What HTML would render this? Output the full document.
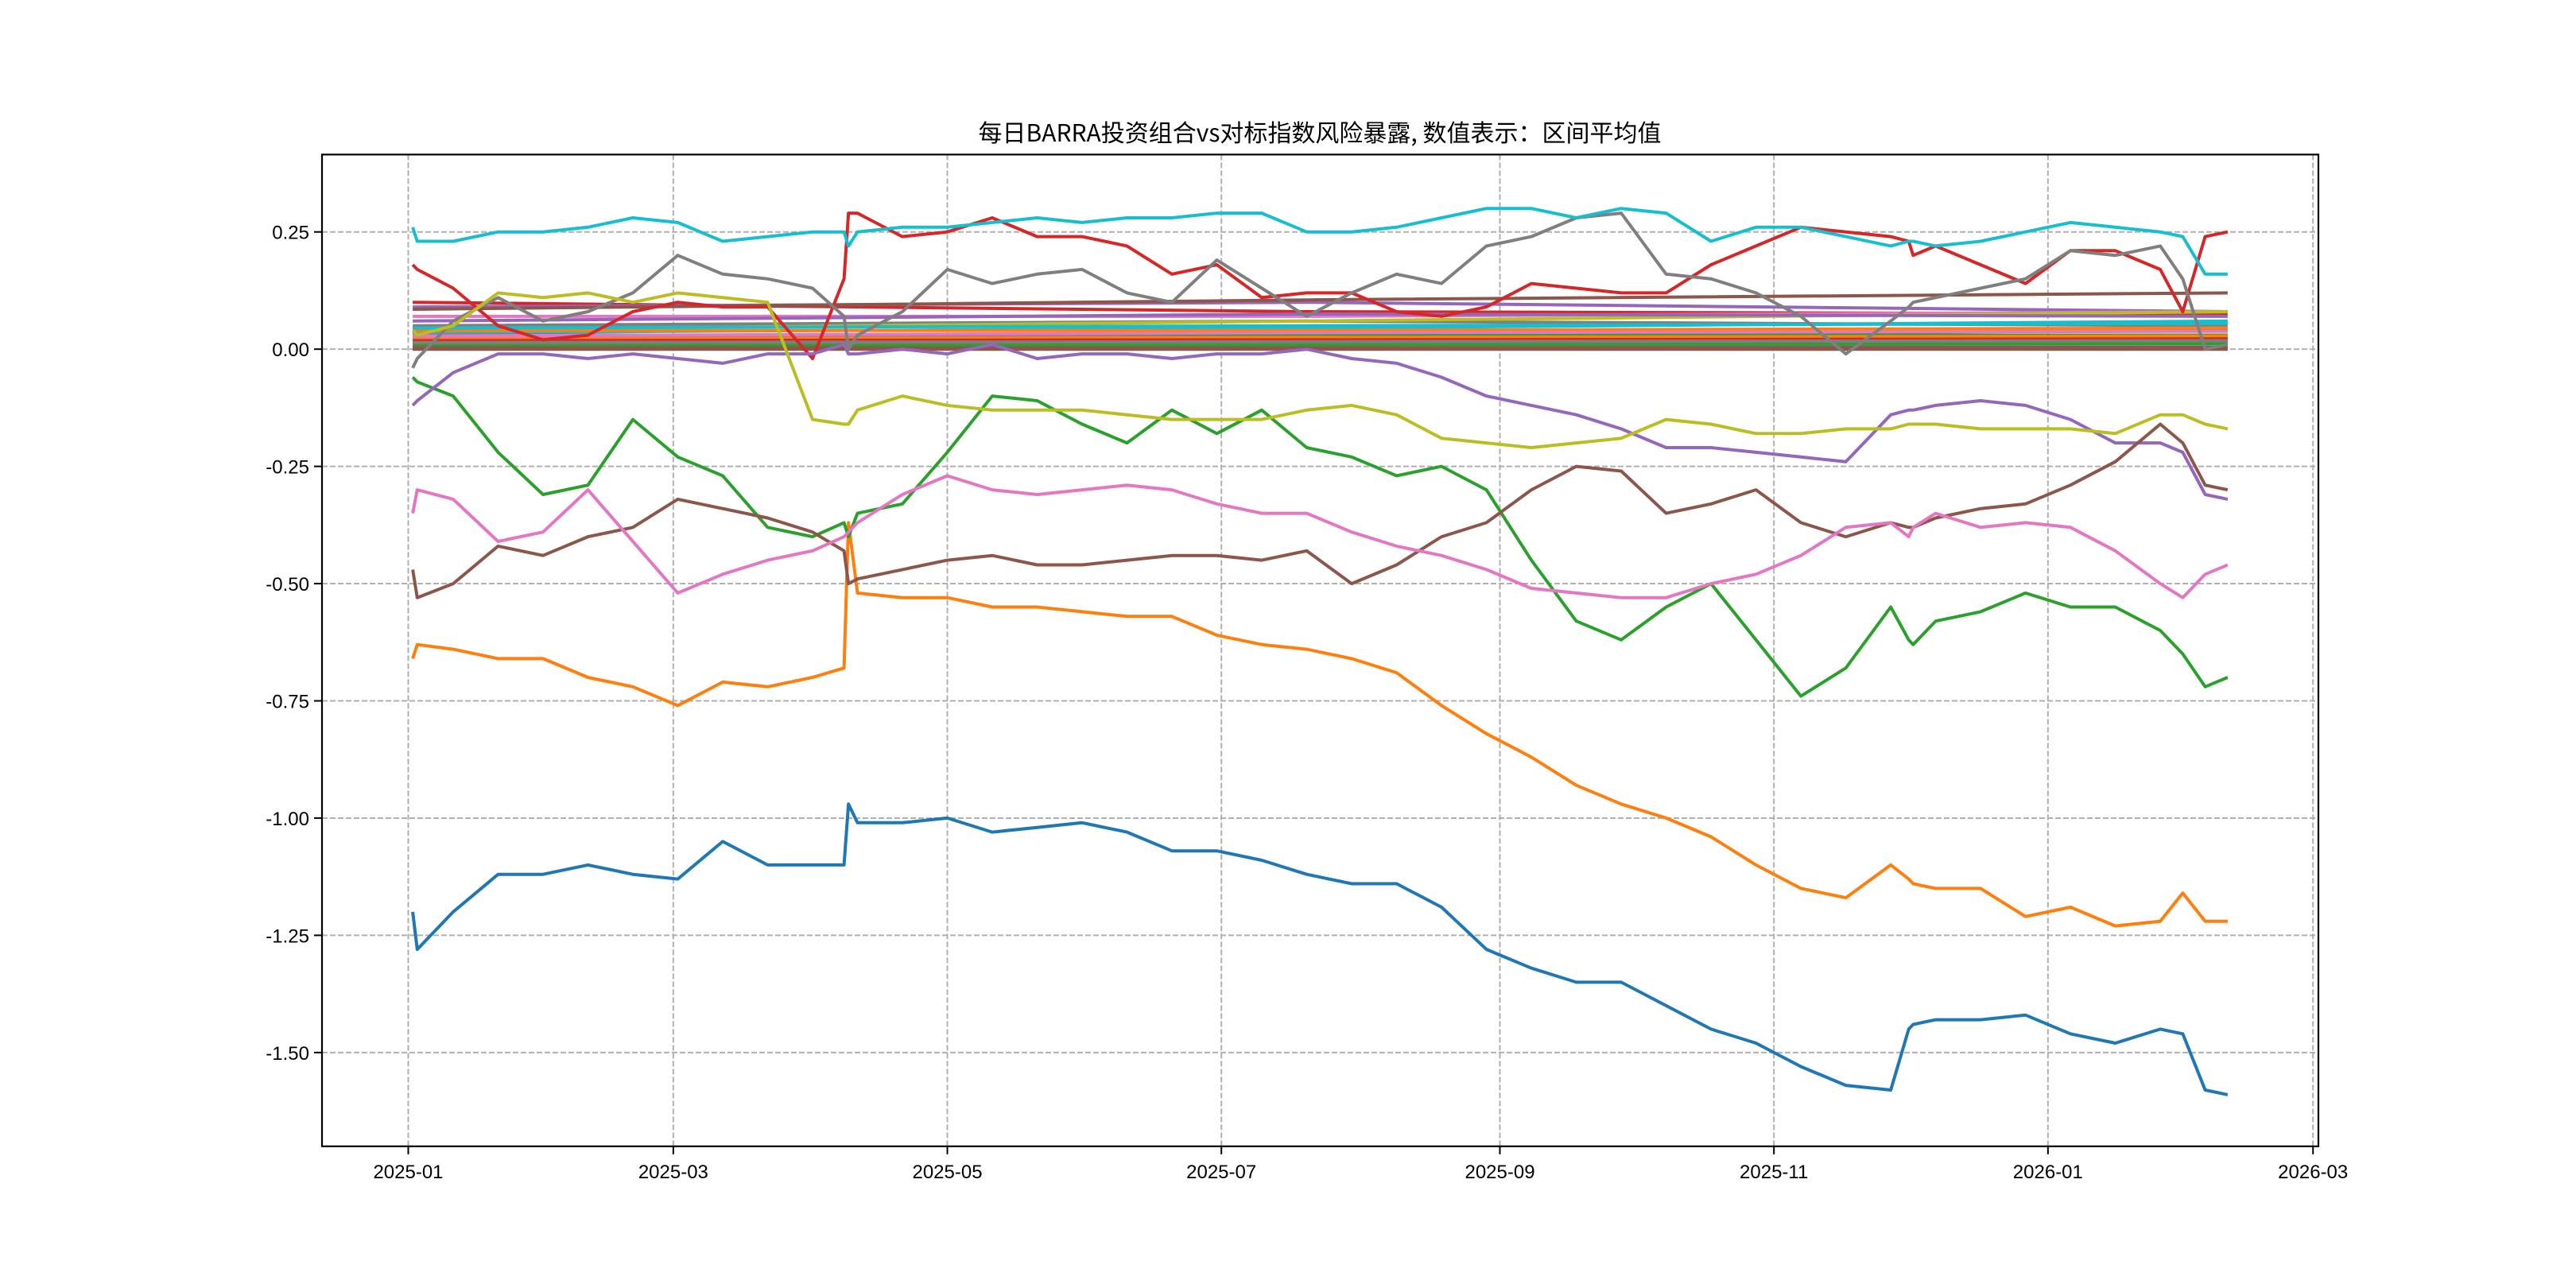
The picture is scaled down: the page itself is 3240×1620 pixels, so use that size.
<!DOCTYPE html>
<html><head><meta charset="utf-8">
<style>
html,body{margin:0;padding:0;background:#fff;}
svg{display:block;}
text{font-family:"Liberation Sans","Noto Sans CJK SC",sans-serif;fill:#000;}
</style></head>
<body>
<svg id="chart" width="3240" height="1620" viewBox="0 0 3240 1620" xmlns="http://www.w3.org/2000/svg">
<rect width="3240" height="1620" fill="#fff"/>
<g id="grid"></g>
<g id="series"></g>
<rect x="405" y="194.4" width="2511" height="1247.4" fill="none" stroke="#000" stroke-width="2.2"/>
<g id="axes"></g>
<text x="1660" y="178" text-anchor="middle" font-size="30" style="font-family:'Noto Sans CJK SC','Liberation Sans',sans-serif">每日BARRA投资组合vs对标指数风险暴露, 数值表示：区间平均值</text>
</svg>
<script>
const days = [1,2,10,20,30,40,50,60,70,80,90,97,98,100,110,120,130,140,150,160,170,180,190,200,210,220,230,240,250,260,270,280,290,300,310,320,330,334,335,340,350,360,370,380,390,395,400,405];
const blueVals = [-1.20,-1.28,-1.20,-1.12,-1.12,-1.10,-1.12,-1.13,-1.05,-1.10,-1.10,-1.10,-0.97,-1.01,-1.01,-1.00,-1.03,-1.02,-1.01,-1.03,-1.07,-1.07,-1.09,-1.12,-1.14,-1.14,-1.19,-1.28,-1.32,-1.35,-1.35,-1.40,-1.45,-1.48,-1.53,-1.57,-1.58,-1.45,-1.44,-1.43,-1.43,-1.42,-1.46,-1.48,-1.45,-1.46,-1.58,-1.59];
const orangeVals = [-0.66,-0.63,-0.64,-0.66,-0.66,-0.70,-0.72,-0.76,-0.71,-0.72,-0.70,-0.68,-0.37,-0.52,-0.53,-0.53,-0.55,-0.55,-0.56,-0.57,-0.57,-0.61,-0.63,-0.64,-0.66,-0.69,-0.76,-0.82,-0.87,-0.93,-0.97,-1.00,-1.04,-1.10,-1.15,-1.17,-1.10,-1.13,-1.14,-1.15,-1.15,-1.21,-1.19,-1.23,-1.22,-1.16,-1.22,-1.22];
const greenVals = [-0.06,-0.07,-0.10,-0.22,-0.31,-0.29,-0.15,-0.23,-0.27,-0.38,-0.40,-0.37,-0.40,-0.35,-0.33,-0.22,-0.10,-0.11,-0.16,-0.20,-0.13,-0.18,-0.13,-0.21,-0.23,-0.27,-0.25,-0.30,-0.45,-0.58,-0.62,-0.55,-0.50,-0.62,-0.74,-0.68,-0.55,-0.62,-0.63,-0.58,-0.56,-0.52,-0.55,-0.55,-0.60,-0.65,-0.72,-0.70];
const redVals = [0.18,0.17,0.13,0.05,0.02,0.03,0.08,0.10,0.09,0.09,-0.02,0.15,0.29,0.29,0.24,0.25,0.28,0.24,0.24,0.22,0.16,0.18,0.11,0.12,0.12,0.08,0.07,0.09,0.14,0.13,0.12,0.12,0.18,0.22,0.26,0.25,0.24,0.23,0.20,0.22,0.18,0.14,0.21,0.21,0.17,0.08,0.24,0.25];
const cyanVals = [0.26,0.23,0.23,0.25,0.25,0.26,0.28,0.27,0.23,0.24,0.25,0.25,0.22,0.25,0.26,0.26,0.27,0.28,0.27,0.28,0.28,0.29,0.29,0.25,0.25,0.26,0.28,0.30,0.30,0.28,0.30,0.29,0.23,0.26,0.26,0.24,0.22,0.23,0.23,0.22,0.23,0.25,0.27,0.26,0.25,0.24,0.16,0.16];
const grayVals = [-0.04,-0.02,0.06,0.11,0.06,0.08,0.12,0.20,0.16,0.15,0.13,0.07,0.00,0.03,0.08,0.17,0.14,0.16,0.17,0.12,0.10,0.19,0.13,0.07,0.12,0.16,0.14,0.22,0.24,0.28,0.29,0.16,0.15,0.12,0.07,-0.01,0.06,0.09,0.10,0.11,0.13,0.15,0.21,0.20,0.22,0.15,0.00,0.01];
const oliveVals = [0.04,0.03,0.05,0.12,0.11,0.12,0.10,0.12,0.11,0.10,-0.15,-0.16,-0.16,-0.13,-0.10,-0.12,-0.13,-0.13,-0.13,-0.14,-0.15,-0.15,-0.15,-0.13,-0.12,-0.14,-0.19,-0.20,-0.21,-0.20,-0.19,-0.15,-0.16,-0.18,-0.18,-0.17,-0.17,-0.16,-0.16,-0.16,-0.17,-0.17,-0.17,-0.18,-0.14,-0.14,-0.16,-0.17];
const purpleVals = [-0.12,-0.11,-0.05,-0.01,-0.01,-0.02,-0.01,-0.02,-0.03,-0.01,-0.01,0.01,-0.01,-0.01,0.00,-0.01,0.01,-0.02,-0.01,-0.01,-0.02,-0.01,-0.01,0.00,-0.02,-0.03,-0.06,-0.10,-0.12,-0.14,-0.17,-0.21,-0.21,-0.22,-0.23,-0.24,-0.14,-0.13,-0.13,-0.12,-0.11,-0.12,-0.15,-0.20,-0.20,-0.22,-0.31,-0.32];
const brownVals = [-0.47,-0.53,-0.50,-0.42,-0.44,-0.40,-0.38,-0.32,-0.34,-0.36,-0.39,-0.43,-0.50,-0.49,-0.47,-0.45,-0.44,-0.46,-0.46,-0.45,-0.44,-0.44,-0.45,-0.43,-0.50,-0.46,-0.40,-0.37,-0.30,-0.25,-0.26,-0.35,-0.33,-0.30,-0.37,-0.40,-0.37,-0.38,-0.38,-0.36,-0.34,-0.33,-0.29,-0.24,-0.16,-0.20,-0.29,-0.30];
const pinkVals = [-0.35,-0.30,-0.32,-0.41,-0.39,-0.30,-0.41,-0.52,-0.48,-0.45,-0.43,-0.40,-0.39,-0.37,-0.31,-0.27,-0.30,-0.31,-0.30,-0.29,-0.30,-0.33,-0.35,-0.35,-0.39,-0.42,-0.44,-0.47,-0.51,-0.52,-0.53,-0.53,-0.50,-0.48,-0.44,-0.38,-0.37,-0.40,-0.38,-0.35,-0.38,-0.37,-0.38,-0.43,-0.50,-0.53,-0.48,-0.46];
// near-zero factor lines: value at day 1, day 200, day 405
const flatDays = [1, 200, 405];
const flatStart = [0.100,0.090,0.085,0.070,0.050,0.040,0.035,0.030,0.040,0.025,0.015,0.005,0.000,0.020,0.030,0.010,0.045,0.012,0.022,0.008,0.018,0.060,0.003,0.028,0.014];
const flatMid   = [0.080,0.100,0.105,0.070,0.060,0.060,0.045,0.030,0.040,0.030,0.020,0.005,0.000,0.020,0.025,0.012,0.050,0.015,0.025,0.010,0.020,0.075,0.003,0.035,0.016];
const flatEnd   = [0.075,0.080,0.120,0.080,0.050,0.080,0.060,0.040,0.045,0.030,0.025,0.005,0.000,0.020,0.020,0.015,0.055,0.018,0.028,0.012,0.022,0.070,0.004,0.038,0.018];
const yTicks = [0.25,0.00,-0.25,-0.50,-0.75,-1.00,-1.25,-1.50];
const yTickLabels = ["0.25","0.00","-0.25","-0.50","-0.75","-1.00","-1.25","-1.50"];
const xTickDays = [0,59,120,181,243,304,365,424];
const xTickLabels = ["2025-01","2025-03","2025-05","2025-07","2025-09","2025-11","2026-01","2026-03"];

const L=405,R=2916,T=194.4,B=1441.8;
const xMin=-19.2,xMax=425.2,yMin=-1.70,yMax=0.415;
const xs=d=>L+(d-xMin)/(xMax-xMin)*(R-L);
const ys=v=>B-(v-yMin)/(yMax-yMin)*(B-T);
const NS='http://www.w3.org/2000/svg';
const tab=['#1f77b4','#ff7f0e','#2ca02c','#d62728','#9467bd','#8c564b','#e377c2','#7f7f7f','#bcbd22','#17becf'];
const grid=document.getElementById('grid'),axes=document.getElementById('axes'),ser=document.getElementById('series');
function mk(tag,attrs,parent){const e=document.createElementNS(NS,tag);for(const k in attrs)e.setAttribute(k,attrs[k]);parent.appendChild(e);return e;}

yTicks.forEach((v,i)=>{
  const y=ys(v);
  const g=mk('line',{x1:L,x2:R,y1:y,y2:y,stroke:'#b0b0b0','stroke-width':2,'stroke-dasharray':'7,3'},grid);
  
  
  const t=mk('line',{x1:L-10,x2:L,y1:y,y2:y,stroke:'#000','stroke-width':2},axes);
  
  
  const tx=mk('text',{x:L-16,y:y+9,'text-anchor':'end','font-size':24},axes);
  tx.textContent=yTickLabels[i];
  
  
});
xTickDays.forEach((d,i)=>{
  const x=xs(d);
  const g=mk('line',{x1:x,x2:x,y1:T,y2:B,stroke:'#b0b0b0','stroke-width':2,'stroke-dasharray':'7,3'},grid);
  
  
  const t=mk('line',{x1:x,x2:x,y1:B,y2:B+10,stroke:'#000','stroke-width':2},axes);
  
  
  const tx=mk('text',{x:x,y:B+40,'text-anchor':'middle','font-size':24},axes);
  tx.textContent=xTickLabels[i];
  
  
});

function draw(dd,vals,color,name){
  const p=mk('polyline',{points:dd.map((d,i)=>xs(d).toFixed(1)+','+ys(vals[i]).toFixed(1)).join(' '),fill:'none',stroke:color,'stroke-width':4,'stroke-linejoin':'round'},ser);
  
  
}
flatStart.forEach((v,i)=>draw(flatDays,[v,flatMid[i],flatEnd[i]],tab[(i+3)%10],'factor-line-near-zero'));
draw(days,blueVals,tab[0],'series-blue');
draw(days,orangeVals,tab[1],'series-orange');
draw(days,greenVals,tab[2],'series-green');
draw(days,redVals,tab[3],'series-red');
draw(days,purpleVals,tab[4],'series-purple');
draw(days,brownVals,tab[5],'series-brown');
draw(days,pinkVals,tab[6],'series-pink');
draw(days,grayVals,tab[7],'series-gray');
draw(days,oliveVals,tab[8],'series-olive');
draw(days,cyanVals,tab[9],'series-cyan');
</script>
</body></html>
